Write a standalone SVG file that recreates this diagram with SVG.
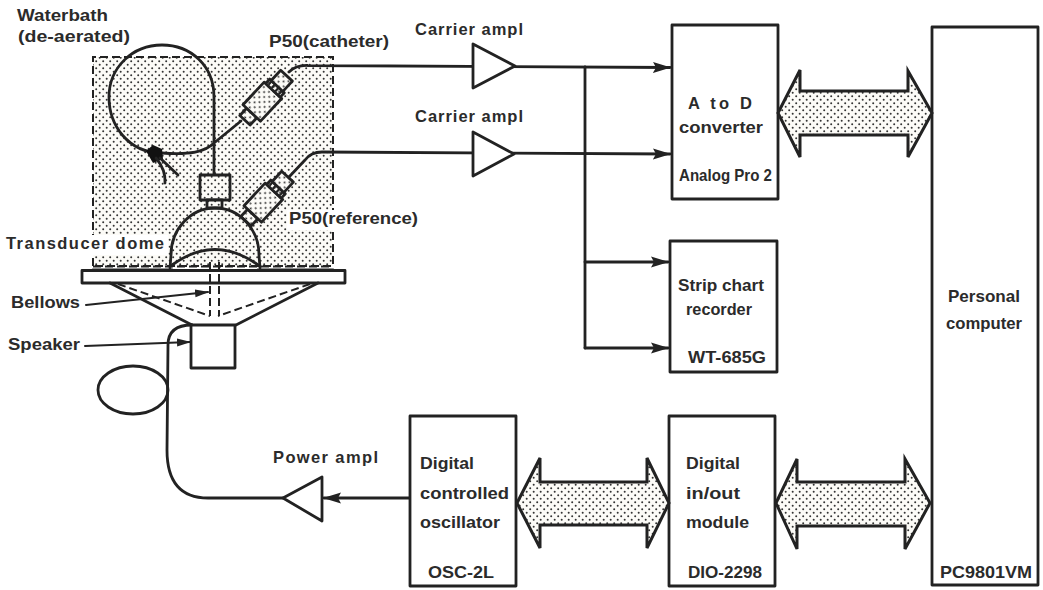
<svg xmlns="http://www.w3.org/2000/svg" width="1043" height="590" viewBox="0 0 1043 590">
<style>
text{font-family:"Liberation Sans",Arial,sans-serif;font-weight:700;font-size:16.500px;fill:#2b2b2b}
.l{fill:none;stroke:#222;stroke-width:2.800;stroke-linecap:round;stroke-linejoin:round}
.t{fill:none;stroke:#222;stroke-width:2;stroke-linecap:round;stroke-linejoin:round}
.b{fill:#fff;stroke:#222;stroke-width:2.800;stroke-linejoin:round}
.d{fill:none;stroke:#222;stroke-width:2;stroke-dasharray:8 4}
.f{fill:url(#dots);stroke:#222;stroke-width:3;stroke-linejoin:miter}
.c{fill:url(#dots);stroke:#222;stroke-width:2.800;stroke-linejoin:round}
</style>
<defs>
<pattern id="dots" width="7" height="7" patternUnits="userSpaceOnUse"><rect width="7" height="7" fill="#fcfbf7"/><circle cx="1.700" cy="1.700" r="1" fill="#333"/><circle cx="5.200" cy="5.200" r="1" fill="#333"/></pattern>
<marker id="ah" markerWidth="18" markerHeight="12" refX="17" refY="6" orient="auto" markerUnits="userSpaceOnUse"><path d="M0,.5 L18,6 L0,11.500 L3,6 Z" fill="#222"/></marker>
<marker id="as" markerWidth="14" markerHeight="10" refX="13" refY="5" orient="auto" markerUnits="userSpaceOnUse"><path d="M0,1 L14,5 L0,9 Z" fill="#222"/></marker>
<g id="p50">
<rect class="c" x="-25" y="-7" width="10" height="14"/>
<rect class="c" x="-15" y="-12" width="31" height="24"/>
<path class="c" d="M16,-10 H22 V10 H16 Z"/>
<path d="M17,-7 H21 M17,-2.500 H21 M17,2.500 H21 M17,7 H21" stroke="#222" stroke-width="2.200"/>
<rect class="c" x="22" y="-8" width="14" height="16"/>
</g>
</defs>
<rect width="1043" height="590" fill="#fff"/>

<g id="waterbath">
<rect x="93" y="57" width="240" height="209" fill="url(#dots)"/>
<path class="d" d="M93,266 V57 H333 V266 H93"/>
<rect x="90" y="235" width="78" height="20" fill="#fff"/>
<rect x="287" y="210" width="49" height="20" fill="#fff"/>
</g>

<g id="connectors">
<path class="l" d="M289,72 Q296,65 308,65.500 L670,67.500" marker-end="url(#ah)"/>
<path class="l" d="M289,177 L305,160 Q311,152 322,152 L670,154" marker-end="url(#ah)"/>
<path class="l" d="M585,67 V348"/>
<path class="l" d="M585,262 H668" marker-end="url(#ah)"/>
<path class="l" d="M585,348 H668" marker-end="url(#ah)"/>
<path class="l" d="M410,498 H324" marker-end="url(#ah)"/>
<path class="l" d="M192,325 Q168,325 168,345 L167,450 Q167,498 208,498 H283"/>
<path class="t" d="M86,305 L208,292" marker-end="url(#as)"/>
<path class="t" d="M85,346 L190,342" marker-end="url(#as)"/>
</g>

<g id="catheter-coil">
<path class="l" d="M214,175 V97 C214,65 190,45 162,45 C132,45 109,68 109,97 C109,125 128,153 162,153 C190,155 205,152 214,143 L241,121"/>
<path d="M146,151 L153,145 L162,149 L163,159 L153,163 Z" fill="#111"/>
<path class="l" d="M156,158 Q166,170 165,183 M160,158 L178,175"/>
</g>

<use id="p50-catheter" href="#p50" transform="translate(262,102) rotate(-47)"/>
<use id="p50-reference" href="#p50" transform="translate(263,203) rotate(-47)"/>

<g id="transducer-dome">
<rect x="200" y="175" width="30" height="25" class="c"/>
<rect x="207" y="200" width="15" height="8" class="c"/>
<path class="l" d="M170,268 L171,255 A44,47 0 0 1 259,255 L260,268"/>
<path class="l" d="M172,265 Q215,234 258,265"/>
<path class="d" d="M93,266.500 H333"/>
<path class="l" d="M93,270 H172 M258,270 H333"/>
<rect class="b" x="82" y="270.500" width="263" height="12.500"/>
</g>

<g id="speaker">
<path class="l" d="M110,283 L192,325 M318,283 L236,325"/>
<path class="d" d="M118,284 L210,316 M310,284 L218,316 M210,262 V316 M219,262 V316"/>
<rect class="b" x="191" y="325" width="44" height="43"/>
<ellipse class="l" cx="133" cy="390" rx="35" ry="24"/>
</g>

<g id="carrier-amp-1"><path class="b" d="M473,44 V88 L515,66 Z"/><text x="415" y="35" textLength="108" lengthAdjust="spacing">Carrier ampl</text></g>
<g id="carrier-amp-2"><path class="b" d="M473,132 V176 L514,154 Z"/><text x="415" y="122" textLength="108" lengthAdjust="spacing">Carrier ampl</text></g>
<g id="power-amp"><path class="b" d="M283,498 L322,477 V521 Z"/><text x="273" y="463" textLength="105" lengthAdjust="spacing">Power ampl</text></g>

<g id="adc"><rect class="b" x="672" y="25" width="106" height="174"/>
<text x="688" y="109" textLength="64" lengthAdjust="spacing">A to D</text>
<text x="679" y="133" textLength="84" lengthAdjust="spacingAndGlyphs">converter</text>
<text x="679" y="181" textLength="93" lengthAdjust="spacingAndGlyphs">Analog Pro 2</text></g>
<g id="recorder"><rect class="b" x="670" y="241" width="107" height="131"/>
<text x="678" y="291" textLength="86" lengthAdjust="spacingAndGlyphs">Strip chart</text>
<text x="686" y="315" textLength="66" lengthAdjust="spacingAndGlyphs">recorder</text>
<text x="688" y="363" textLength="78" lengthAdjust="spacingAndGlyphs">WT-685G</text></g>
<g id="pc"><rect class="b" x="932" y="27" width="106" height="558"/>
<text x="948" y="302" textLength="72" lengthAdjust="spacingAndGlyphs">Personal</text>
<text x="946" y="329" textLength="76" lengthAdjust="spacingAndGlyphs">computer</text>
<text x="940" y="578" textLength="92" lengthAdjust="spacingAndGlyphs">PC9801VM</text></g>
<g id="oscillator"><rect class="b" x="410" y="416" width="106" height="170"/>
<text x="420" y="469" textLength="54" lengthAdjust="spacingAndGlyphs">Digital</text>
<text x="420" y="499" textLength="89" lengthAdjust="spacingAndGlyphs">controlled</text>
<text x="420" y="528" textLength="80" lengthAdjust="spacingAndGlyphs">oscillator</text>
<text x="428" y="578" textLength="66" lengthAdjust="spacingAndGlyphs">OSC-2L</text></g>
<g id="dio"><rect class="b" x="669" y="416" width="106" height="170"/>
<text x="686" y="469" textLength="54" lengthAdjust="spacingAndGlyphs">Digital</text>
<text x="686" y="499" textLength="54" lengthAdjust="spacingAndGlyphs">in/out</text>
<text x="686" y="528" textLength="63" lengthAdjust="spacingAndGlyphs">module</text>
<text x="688" y="578" textLength="74" lengthAdjust="spacingAndGlyphs">DIO-2298</text></g>

<g id="bus-adc-pc"><path class="f" d="M778,113 L800,70 V91 H908 V71 L932,113 L908,157 V135 H800 V157 Z"/></g>
<g id="bus-osc-dio"><path class="f" d="M517,503 L540,458 V482 H647 V458 L669,503 L647,548 V525 H540 V548 Z"/></g>
<g id="bus-dio-pc"><path class="f" d="M776,503 L797,459 V482 H905 V459 L930,503 L905,549 V526 H797 V549 Z"/></g>

<g id="labels">
<text x="17" y="21" textLength="91" lengthAdjust="spacingAndGlyphs">Waterbath</text>
<text x="18" y="42" textLength="112" lengthAdjust="spacingAndGlyphs">(de-aerated)</text>
<text x="269" y="47" textLength="120" lengthAdjust="spacingAndGlyphs">P50(catheter)</text>
<text x="289" y="224" textLength="129" lengthAdjust="spacingAndGlyphs">P50(reference)</text>
<text x="6" y="249" textLength="158" lengthAdjust="spacing">Transducer dome</text>
<text x="11" y="308" textLength="69" lengthAdjust="spacingAndGlyphs">Bellows</text>
<text x="8" y="350" textLength="72" lengthAdjust="spacingAndGlyphs">Speaker</text>
</g>
</svg>
